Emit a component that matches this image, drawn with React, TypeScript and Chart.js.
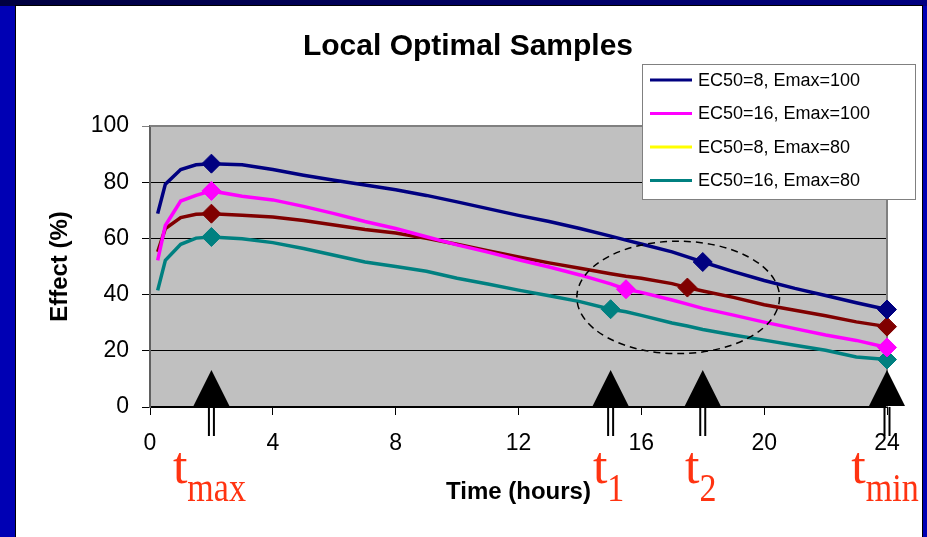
import React, { useEffect, useRef } from 'react';
import { Chart, registerables } from 'chart.js';

Chart.register(...registerables);

// ---- data ----
const times = [0.25, 0.5, 1, 1.5, 2, 3, 4, 5, 6, 7, 8, 9, 10, 11, 12, 13, 14, 15, 15.5, 16, 17, 17.5, 18, 19, 20, 21, 22, 23, 24];

const ec8Emax100 = [68.8, 79.3, 84.5, 86.2, 86.6, 86.2, 84.5, 82.5, 80.7, 79.0, 77.3, 75.3, 73.0, 70.6, 68.2, 66.0, 63.5, 60.8, 59.4, 58.0, 55.2, 53.4, 51.6, 48.2, 45.0, 42.2, 39.7, 37.1, 34.7];
const ec16Emax100 = [52.2, 64.6, 73.3, 75.3, 76.9, 75.0, 73.7, 71.4, 68.8, 66.0, 63.5, 60.6, 57.7, 55.1, 52.4, 49.8, 47.0, 43.8, 41.9, 40.8, 38.1, 36.6, 35.1, 32.7, 30.2, 27.9, 25.6, 23.7, 21.2];
const ec8Emax80 = [55.2, 63.5, 67.4, 68.6, 68.8, 68.2, 67.6, 66.4, 64.8, 63.2, 61.9, 60.0, 57.9, 55.6, 53.4, 51.3, 49.4, 47.4, 46.5, 45.8, 43.9, 42.5, 41.3, 39.0, 36.4, 34.4, 32.5, 30.3, 28.6];
const ec16Emax80 = [41.5, 52.2, 57.9, 60.1, 60.5, 59.9, 58.5, 56.4, 54.0, 51.6, 50.0, 48.3, 45.8, 43.8, 41.6, 39.6, 37.5, 34.8, 33.9, 32.6, 29.9, 28.8, 27.6, 25.6, 23.8, 22.0, 20.2, 17.8, 16.9];

const seriesLabels = ['EC50=8, Emax=100', 'EC50=16, Emax=100', 'EC50=8, Emax=80', 'EC50=16, Emax=80'];
const lineColors = ['#000080', '#ff00ff', '#800000', '#008080'];
const legendColors = ['#000080', '#ff00ff', '#ffff00', '#008080'];

const marksBlue = [2, 18, 24];
const marksMagenta = [2, 15.5, 24];
const marksMaroon = [2, 17.5, 24];
const marksTeal = [2, 15, 24];

const sampleTimes = [2, 15, 18, 24];
const sampleSubs = ['max', '1', '2', 'min'];

const xMin = 0, xMax = 24, xStep = 4;
const yMin = 0, yMax = 100, yStep = 20;

const ellipseCenter = [17.2, 39];
const ellipseRadii = [3.3, 20];

const titleText = 'Local Optimal Samples';
const xTitle = 'Time (hours)';
const yTitle = 'Effect (%)';

const SANS = 'Arial, "Liberation Sans", sans-serif';
const SERIF = '"Times New Roman", "Liberation Serif", serif';

const seriesValues = [ec8Emax100, ec16Emax100, ec8Emax80, ec16Emax80];
const seriesMarks = [marksBlue, marksMagenta, marksMaroon, marksTeal];

const decorPlugin = {
  id: 'decor',
  beforeDraw(chart: any) {
    const { ctx, chartArea: a } = chart;
    ctx.save();
    ctx.fillStyle = '#c0c0c0';
    ctx.fillRect(a.left, a.top, a.right - a.left, a.bottom - a.top);
    ctx.restore();
  },
  beforeDatasetsDraw(chart: any) {
    const { ctx, chartArea: a } = chart;
    ctx.save();
    ctx.strokeStyle = '#808080';
    ctx.lineWidth = 2;
    ctx.beginPath();
    ctx.moveTo(a.left, a.top);
    ctx.lineTo(a.right, a.top);
    ctx.lineTo(a.right, a.bottom);
    ctx.stroke();
    ctx.restore();
  },
  afterDraw(chart: any) {
    const { ctx, scales } = chart;
    const xs = scales.x;
    const ys = scales.y;
    const y0 = ys.getPixelForValue(0);
    ctx.save();

    // title
    ctx.fillStyle = '#000';
    ctx.font = 'bold 30px ' + SANS;
    ctx.textAlign = 'center';
    ctx.textBaseline = 'alphabetic';
    ctx.fillText(titleText, 468, 55);

    // dashed ellipse
    const cx = xs.getPixelForValue(ellipseCenter[0]);
    const cy = ys.getPixelForValue(ellipseCenter[1]);
    const rx = Math.abs(xs.getPixelForValue(ellipseCenter[0] + ellipseRadii[0]) - cx);
    const ry = Math.abs(ys.getPixelForValue(ellipseCenter[1] + ellipseRadii[1]) - cy);
    ctx.strokeStyle = '#000';
    ctx.lineWidth = 1.5;
    ctx.setLineDash([7, 5]);
    ctx.beginPath();
    ctx.ellipse(cx, cy, rx, ry, 0, 0, Math.PI * 2);
    ctx.stroke();
    ctx.setLineDash([]);

    // arrows and labels
    sampleTimes.forEach((t, i) => {
      const px = xs.getPixelForValue(t);
      ctx.fillStyle = '#000';
      ctx.beginPath();
      ctx.moveTo(px - 18, y0 - 1);
      ctx.lineTo(px + 18, y0 - 1);
      ctx.lineTo(px, y0 - 37);
      ctx.closePath();
      ctx.fill();
      ctx.strokeStyle = '#000';
      ctx.lineWidth = 2;
      ctx.beginPath();
      ctx.moveTo(px - 2.5, y0);
      ctx.lineTo(px - 2.5, y0 + 29);
      ctx.moveTo(px + 2.5, y0);
      ctx.lineTo(px + 2.5, y0 + 29);
      ctx.stroke();

      ctx.fillStyle = '#ff3311';
      ctx.textAlign = 'left';
      ctx.textBaseline = 'alphabetic';
      ctx.font = '52px ' + SERIF;
      const tw = ctx.measureText('t').width;
      ctx.font = '34px ' + SERIF;
      const sw = ctx.measureText(sampleSubs[i]).width;
      const left = px - (tw + sw) / 2 - 2;
      ctx.font = '52px ' + SERIF;
      ctx.fillText('t', left, y0 + 76);
      ctx.save();
      ctx.translate(left + tw, y0 + 94);
      ctx.scale(1, 1.2);
      ctx.font = '34px ' + SERIF;
      ctx.fillText(sampleSubs[i], 0, 0);
      ctx.restore();
    });

    // legend
    const lx = 642, ly = 64, lw = 274, lh = 136;
    ctx.fillStyle = '#ffffff';
    ctx.fillRect(lx, ly, lw, lh);
    ctx.strokeStyle = '#808080';
    ctx.lineWidth = 1;
    ctx.strokeRect(lx + 0.5, ly + 0.5, lw - 1, lh - 1);
    chart.data.datasets.forEach((ds: any, i: number) => {
      const yy = 80 + i * 33.5;
      ctx.strokeStyle = legendColors[i];
      ctx.lineWidth = 3;
      ctx.beginPath();
      ctx.moveTo(650, yy);
      ctx.lineTo(692, yy);
      ctx.stroke();
      ctx.fillStyle = '#000';
      ctx.font = '18px ' + SANS;
      ctx.textAlign = 'left';
      ctx.textBaseline = 'middle';
      ctx.fillText(ds.label, 698, yy + 1);
    });

    ctx.restore();
  },
};

export default function App() {
  const canvasRef = useRef<HTMLCanvasElement | null>(null);

  useEffect(() => {
    const canvas = canvasRef.current;
    if (!canvas) return;
    Chart.defaults.font.family = SANS;
    Chart.defaults.color = '#000';

    const datasets = seriesValues.map((vals, i) => ({
      label: seriesLabels[i],
      data: times.map((t, k) => ({ x: t, y: vals[k] })),
      borderColor: lineColors[i],
      backgroundColor: lineColors[i],
      borderWidth: 3.5,
      tension: 0,
      fill: false,
      clip: false as any,
      pointStyle: 'rectRot' as const,
      pointRadius: (c: any) => (seriesMarks[i].includes(times[c.dataIndex]) ? 9.5 : 0),
      pointHoverRadius: 0,
      pointBackgroundColor: lineColors[i],
      pointBorderColor: lineColors[i],
      pointBorderWidth: 1,
    }));

    const chart = new Chart(canvas, {
      type: 'line',
      data: { datasets },
      options: {
        responsive: false,
        animation: false,
        events: [],
        layout: { padding: { left: 15, right: 40, top: 126, bottom: 0 } },
        plugins: {
          legend: { display: false },
          title: { display: false },
          tooltip: { enabled: false },
        },
        scales: {
          x: {
            type: 'linear',
            min: xMin,
            max: xMax,
            afterFit: (s: any) => { s.height = 130; },
            ticks: {
              stepSize: xStep,
              padding: 15,
              font: { size: 23 },
              color: '#000',
            },
            grid: {
              drawOnChartArea: false,
              drawTicks: true,
              tickLength: 8,
              color: '#000',
              lineWidth: 1,
            },
            border: { color: '#000', width: 2 },
            title: {
              display: true,
              text: xTitle,
              font: { size: 24, weight: 'bold' },
              color: '#000',
              padding: { top: 0, bottom: 30 },
            },
          },
          y: {
            type: 'linear',
            min: yMin,
            max: yMax,
            afterFit: (s: any) => { s.width = 135; },
            ticks: {
              stepSize: yStep,
              padding: 13,
              font: { size: 23 },
              color: '#000',
            },
            grid: {
              drawTicks: true,
              tickLength: 8,
              color: (c: any) => (c.tick && c.tick.value === yMax ? '#808080' : '#000'),
              lineWidth: 1,
            },
            border: { color: '#606060', width: 2 },
            title: {
              display: true,
              text: yTitle,
              font: { size: 24, weight: 'bold' },
              color: '#000',
              padding: { top: 31, bottom: 0 },
            },
          },
        },
      },
      plugins: [decorPlugin],
    } as any);

    return () => chart.destroy();
  }, []);

  return (
    <div style={{ position: 'absolute', left: 0, top: 0, width: 927, height: 537, overflow: 'hidden', background: '#0000b4' }}>
      <div style={{ position: 'absolute', left: 0, top: 0, width: 927, height: 6, background: 'linear-gradient(to right, #000040, #000080)' }} />
      <div style={{ position: 'absolute', left: 15, top: 5, width: 908, height: 545, background: '#ffffff', border: '1px solid #000', boxSizing: 'border-box' }} />
      <canvas ref={canvasRef} width={927} height={537} style={{ position: 'absolute', left: 0, top: 0, width: 927, height: 537 }} />
    </div>
  );
}
